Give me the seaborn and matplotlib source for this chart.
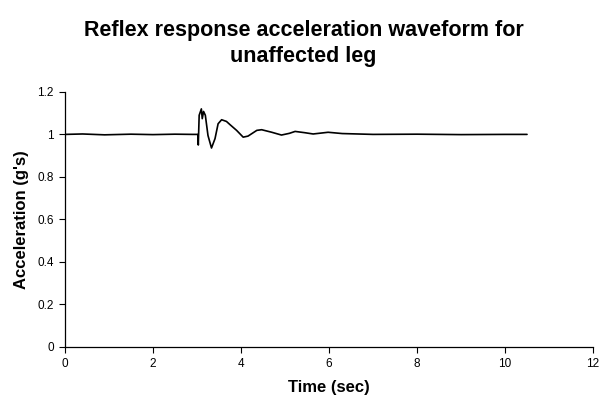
import pandas as pd
import numpy as np
import matplotlib.pyplot as plt
import seaborn as sns

# Values (time in sec, acceleration in g's)
time_sec = [0.0, 0.4, 0.9, 1.5, 2.0, 2.5, 2.9, 3.02, 3.03, 3.05, 3.10, 3.12,
            3.15, 3.19, 3.25, 3.33, 3.41, 3.48, 3.56, 3.67, 3.75, 3.90, 4.05,
            4.16, 4.36, 4.47, 4.70, 4.92, 5.10, 5.23, 5.45, 5.64, 5.98, 6.30,
            7.0, 8.0, 9.0, 10.0, 10.5]
accel_g = [1.000, 1.002, 0.998, 1.001, 0.999, 1.001, 1.000, 1.000, 0.950, 1.090,
           1.120, 1.074, 1.108, 1.090, 0.995, 0.936, 0.980, 1.050, 1.069, 1.061,
           1.046, 1.019, 0.987, 0.992, 1.019, 1.022, 1.010, 0.997, 1.005, 1.014,
           1.008, 1.002, 1.010, 1.004, 1.000, 1.001, 0.999, 1.000, 1.000]

x_ticks = [0, 2, 4, 6, 8, 10, 12]
y_ticks = [0, 0.2, 0.4, 0.6, 0.8, 1.0, 1.2]
y_tick_labels = ['0', '0.2', '0.4', '0.6', '0.8', '1', '1.2']

df = pd.DataFrame({'time': time_sec, 'accel': accel_g})

sns.set_theme(style='ticks')
plt.rcParams['font.family'] = ['Liberation Sans', 'DejaVu Sans']
plt.rcParams['text.color'] = 'black'
plt.rcParams['axes.labelcolor'] = 'black'
plt.rcParams['xtick.color'] = 'black'
plt.rcParams['ytick.color'] = 'black'

fig = plt.figure(figsize=(6.07, 4.03), dpi=100)
ax = fig.add_axes([0.107, 0.139, 0.870, 0.633])

sns.lineplot(data=df, x='time', y='accel', color='black', linewidth=1.2,
             estimator=None, sort=False, ax=ax)

ax.set_xlim(0, 12)
ax.set_ylim(0, 1.2)
ax.set_xticks(x_ticks)
ax.set_yticks(y_ticks)
ax.set_yticklabels(y_tick_labels)
ax.tick_params(labelsize=8.5, length=4, width=0.8, color='black', pad=4)
for side in ['top', 'right']:
    ax.spines[side].set_visible(False)
for side in ['left', 'bottom']:
    ax.spines[side].set_color('black')
    ax.spines[side].set_linewidth(0.9)

ax.set_xlabel('Time (sec)', fontsize=12, fontweight='bold', labelpad=7)
ax.set_ylabel("Acceleration (g's)", fontsize=12, fontweight='bold', labelpad=6)
fig.suptitle('Reflex response acceleration waveform for\nunaffected leg',
             fontsize=15.5, fontweight='bold', y=0.95, linespacing=1.3)

fig.savefig('out.png', dpi=100)
